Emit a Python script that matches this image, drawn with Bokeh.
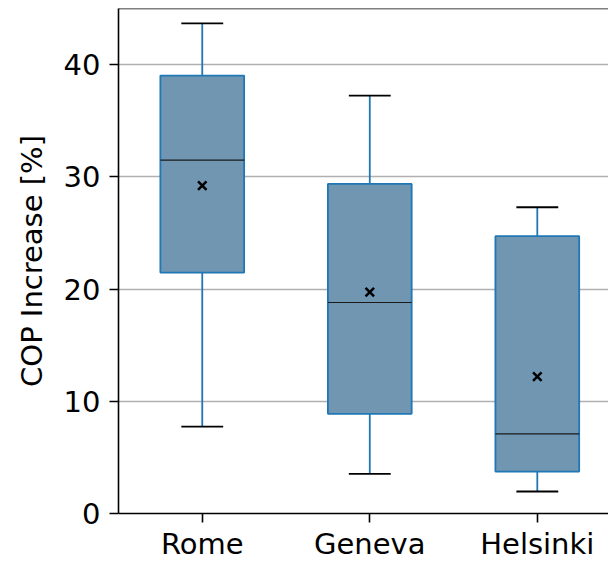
from bokeh.plotting import figure
from bokeh.models import Range1d, FixedTicker, Span, ColumnDataSource
from bokeh.embed import file_html
from bokeh.resources import INLINE

# ---- data ----
cities = ["Rome", "Geneva", "Helsinki"]
positions = [1, 2, 3]
whisker_low = [7.75, 3.53, 1.96]
q1 = [21.47, 8.88, 3.74]
median = [31.48, 18.80, 7.10]
q3 = [39.02, 29.37, 24.71]
whisker_high = [43.68, 37.24, 27.29]
mean = [29.22, 19.72, 12.20]
y_ticks = [0, 10, 20, 30, 40]

BOX_W = 0.5
CAP_W = 0.25
FONT = "DejaVu Sans"
FS = "29px"

src = ColumnDataSource(dict(
    x=positions,
    lo=whisker_low, q1=q1, med=median, q3=q3, hi=whisker_high, mean=mean,
    cap_l=[p - CAP_W / 2 for p in positions],
    cap_r=[p + CAP_W / 2 for p in positions],
    box_l=[p - BOX_W / 2 for p in positions],
    box_r=[p + BOX_W / 2 for p in positions],
))

p = figure(width=608, height=563,
           x_range=Range1d(0.5, 3.425), y_range=Range1d(0, 45),
           output_backend="svg", toolbar_location=None,
           min_border_left=118, min_border_right=0, min_border_top=8,
           min_border_bottom=0)

p.background_fill_color = "white"
p.border_fill_color = "white"
p.outline_line_color = None

# whiskers
p.segment(x0="x", y0="q3", x1="x", y1="hi", source=src, line_color="#1f77b4", line_width=1.8)
p.segment(x0="x", y0="q1", x1="x", y1="lo", source=src, line_color="#1f77b4", line_width=1.8)
# boxes
p.vbar(x="x", width=BOX_W, bottom="q1", top="q3", source=src,
       fill_color="#7096b2", line_color="#1f77b4", line_width=1.8)
# caps
p.segment(x0="cap_l", y0="hi", x1="cap_r", y1="hi", source=src, line_color="black", line_width=1.8)
p.segment(x0="cap_l", y0="lo", x1="cap_r", y1="lo", source=src, line_color="black", line_width=1.8)
# medians
p.segment(x0="box_l", y0="med", x1="box_r", y1="med", source=src, line_color="#1a1a1a", line_width=1.2)
# means
p.scatter(x="x", y="mean", source=src, marker="x", size=12, line_color="black", line_width=2.5)

# top spine
p.add_layout(Span(location=45, dimension="width", line_color="black", line_width=1.6))

# grid
p.xgrid.visible = False
p.ygrid.ticker = FixedTicker(ticks=y_ticks)
p.ygrid.grid_line_color = "#b0b0b0"
p.ygrid.grid_line_width = 1.3

# axes
p.yaxis.ticker = FixedTicker(ticks=y_ticks)
p.xaxis.ticker = FixedTicker(ticks=positions)
p.xaxis.major_label_overrides = {pos: c for pos, c in zip(positions, cities)}
p.yaxis.axis_label = "COP Increase [%]"

for ax in (p.xaxis, p.yaxis):
    ax.axis_line_color = "black"
    ax.axis_line_width = 1.6
    ax.major_tick_line_color = "black"
    ax.major_tick_line_width = 1.6
    ax.major_tick_in = 0
    ax.major_tick_out = 9
    ax.minor_tick_line_color = None
    ax.major_label_text_font = FONT
    ax.major_label_text_font_size = FS
    ax.major_label_text_color = "black"

p.yaxis.major_label_standoff = 9
p.xaxis.major_label_standoff = 4
p.yaxis.axis_label_text_font = FONT
p.yaxis.axis_label_text_font_size = FS
p.yaxis.axis_label_text_font_style = "normal"
p.yaxis.axis_label_text_color = "black"
p.yaxis.axis_label_standoff = 12

open("out.html", "w").write(file_html(p, INLINE))
